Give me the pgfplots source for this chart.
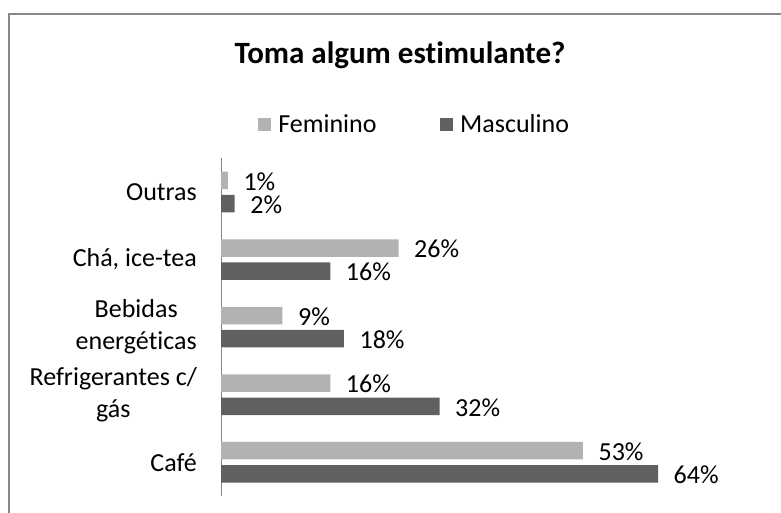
\documentclass[border=0pt]{standalone}
\usepackage{pgfplots}
\pgfplotsset{compat=1.18}
\usepackage{fontspec}
\setmainfont{Carlito}[Ligatures=NoCommon]
\definecolor{fem}{RGB}{178,178,178}
\definecolor{masc}{RGB}{96,96,96}
\definecolor{axisgray}{RGB}{134,134,134}
\definecolor{framegray}{RGB}{136,136,136}
\begin{document}
\begin{tikzpicture}[x=1pt,y=1pt]
\useasboundingbox (0,0) rectangle (781,513);
\draw[line width=2pt, color=framegray] (8.5,0) -- (8.5,499) -- (781,499);
\node[anchor=base, font=\bfseries\fontsize{31}{37}\selectfont] at (400,449) {Toma algum estimulante?};
\begin{axis}[
  at={(221pt,17pt)}, anchor=south west,
  scale only axis, width=478pt, height=337.7pt,
  xbar, xmin=0, xmax=70, ymin=-0.5, ymax=4.5,
  hide x axis,
  axis y line*=left,
  y axis line style={draw=axisgray, line width=1pt, -},
  ytick={0,1,2,3,4},
  yticklabels={Café, {Refrigerantes c/\\gás}, {Bebidas\\energéticas}, {Chá, ice-tea}, Outras},
  yticklabel style={align=center, font=\fontsize{26}{32}\selectfont, inner sep=0pt, xshift=-24pt},
  major tick length=0pt,
  bar width=17.5pt,
  point meta=x,
  /pgf/number format/assume math mode=true,
  nodes near coords={\pgfmathprintnumber[assume math mode=true]{\pgfplotspointmeta}\%},
  nodes near coords style={font=\fontsize{26}{32}\selectfont, text=black, anchor=west, inner sep=0pt, xshift=15.5pt, yshift=-1pt},
  legend columns=2,
  legend style={at={(0.4023,1.100)}, anchor=center, draw=none, fill=none,
    font=\fontsize{26}{32}\selectfont,
    nodes={inner sep=0pt},
    /tikz/every odd column/.append style={column sep=7.7pt},
    /tikz/every even column/.append style={column sep=63pt}},
  legend image code/.code={\fill[#1] (0pt,-6.5pt) rectangle (13pt,6.5pt);},
]
\addplot+[bar shift=11.6pt, fill=fem, draw=none] coordinates {(53,0) (16,1) (9,2) (26,3) (1,4)};
\addplot+[bar shift=-11.6pt, fill=masc, draw=none] coordinates {(64,0) (32,1) (18,2) (16,3) (2,4)};
\legend{Feminino, Masculino}
\end{axis}
\end{tikzpicture}
\end{document}
